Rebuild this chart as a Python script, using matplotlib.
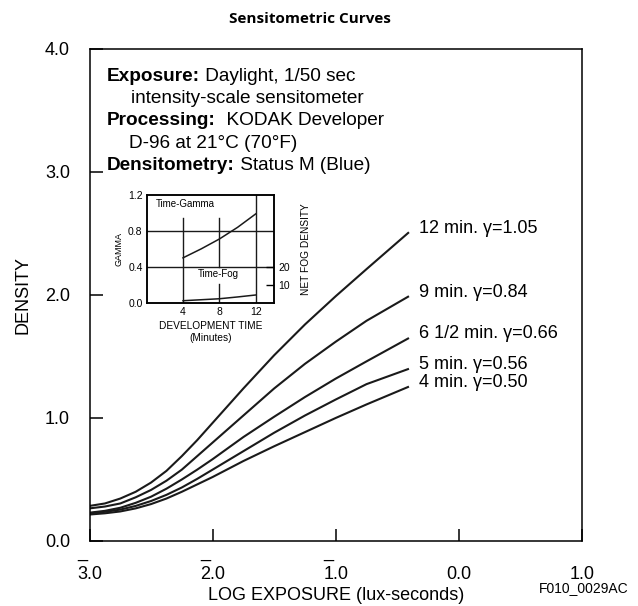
import matplotlib
matplotlib.use("Agg")
import matplotlib.pyplot as plt

plt.rcParams['font.family'] = ['Liberation Sans', 'DejaVu Sans']

# Main chart data (log exposure vs density)
log_exposure = [-3.0, -2.875, -2.75, -2.625, -2.5, -2.375, -2.25, -2.125,
                -2.0, -1.875, -1.75, -1.5, -1.25, -1.0, -0.75, -0.405]
density_12 = [0.285, 0.305, 0.345, 0.40, 0.475, 0.57, 0.69, 0.82,
              0.96, 1.10, 1.24, 1.51, 1.76, 1.99, 2.21, 2.51]
density_9 = [0.265, 0.28, 0.305, 0.355, 0.415, 0.49, 0.58, 0.69,
             0.80, 0.91, 1.02, 1.24, 1.44, 1.62, 1.79, 1.99]
density_6h = [0.23, 0.245, 0.27, 0.31, 0.36, 0.425, 0.50, 0.58,
              0.665, 0.755, 0.845, 1.01, 1.17, 1.32, 1.46, 1.65]
density_5 = [0.225, 0.237, 0.255, 0.285, 0.325, 0.375, 0.435, 0.505,
             0.58, 0.655, 0.73, 0.88, 1.02, 1.15, 1.275, 1.40]
density_4 = [0.215, 0.225, 0.24, 0.265, 0.30, 0.345, 0.40, 0.46,
             0.52, 0.585, 0.65, 0.77, 0.885, 1.0, 1.11, 1.255]
curve_labels = ["12 min. \u03b3=1.05", "9 min. \u03b3=0.84", "6 1/2 min. \u03b3=0.66",
                "5 min. \u03b3=0.56", "4 min. \u03b3=0.50"]

# bar-notation log values: the bar sits over the first digit
x_ticks = [-3, -2, -1, 0, 1]
x_ticklabels = ['_\n3.0', '_\n2.0', '_\n1.0', ' \n0.0', ' \n1.0']
y_ticks = [0, 1, 2, 3, 4]
y_ticklabels = ['0.0', '1.0', '2.0', '3.0', '4.0']

# Inset data
dev_time = [4, 6, 8, 10, 12]
gamma = [0.50, 0.60, 0.71, 0.84, 0.99]
fog_time = [4, 8, 10, 12]
net_fog = [1.1, 2.2, 3.2, 4.3]

fig = plt.figure(figsize=(6.38, 6.06), dpi=100)
ax = fig.add_axes([0.1403, 0.1073, 0.7718, 0.8119])

series = [density_12, density_9, density_6h, density_5, density_4]
for d in series:
    ax.plot(log_exposure, d, color='#1a1a1a', linewidth=1.5,
            solid_joinstyle='round', solid_capstyle='butt')

for d, lab in zip(series, curve_labels):
    ax.annotate(lab, xy=(log_exposure[-1], d[-1]), xytext=(7, 3),
                textcoords='offset points', fontsize=13, va='center', ha='left')

ax.set_xlim(-3, 1)
ax.set_ylim(0, 4)
ax.set_xticks(x_ticks)
ax.set_xticklabels(x_ticklabels, fontsize=13, linespacing=1.4)
for lab in ax.get_xticklabels():
    lab.set_multialignment('left')
ax.set_yticks(y_ticks)
ax.set_yticklabels(y_ticklabels, fontsize=13)
ax.tick_params(direction='in', length=9, width=1.1)
ax.tick_params(axis='x', pad=2)
ax.tick_params(axis='y', pad=14)
for s in ax.spines.values():
    s.set_linewidth(1.1)
ax.set_xlabel('LOG EXPOSURE (lux-seconds)', fontsize=13, labelpad=3)
ax.set_ylabel('DENSITY', fontsize=13, labelpad=10)

# Conditions text block
lines = [("Exposure:", " Daylight, 1/50 sec", 0.036),
         (None, "intensity-scale sensitometer", 0.085),
         ("Processing:", "  KODAK Developer", 0.036),
         (None, "D-96 at 21\u00b0C (70\u00b0F)", 0.08),
         ("Densitometry:", " Status M (Blue)", 0.036)]
y = 0.945
for bold, rest, xoff in lines:
    if bold:
        t = ax.text(xoff, y, bold, transform=ax.transAxes, fontsize=13.7,
                    fontweight='bold', va='center', ha='left')
        ax.annotate(rest, xy=(1, 0.5), xycoords=t, va='center', ha='left',
                    fontsize=13.7)
    else:
        ax.text(xoff, y, rest, transform=ax.transAxes, fontsize=13.7,
                va='center', ha='left')
    y -= 0.0457

fig.text(0.486, 0.969, 'Sensitometric Curves', family='Open Sans',
         fontweight='bold', fontsize=11, ha='center', va='center')
fig.text(0.985, 0.029, 'F010_0029AC', fontsize=10, ha='right', va='center')

# Inset chart
axi = fig.add_axes([0.2299, 0.5005, 0.1995, 0.1777])
axi.set_xlim(0, 14)
axi.set_ylim(0, 1.2)
axi.axhline(0.4, color='#1a1a1a', lw=1.0)
axi.axhline(0.8, color='#1a1a1a', lw=1.0)
axi.axvline(4, ymin=0, ymax=0.79, color='#1a1a1a', lw=1.0)
axi.axvline(8, ymin=0, ymax=0.175, color='#1a1a1a', lw=1.0)
axi.axvline(8, ymin=0.333, ymax=0.79, color='#1a1a1a', lw=1.0)
axi.axvline(12, color='#1a1a1a', lw=1.0)
axi.plot(dev_time, gamma, color='#1a1a1a', lw=1.1)
axi.text(1.0, 1.10, 'Time-Gamma', fontsize=7, va='center', ha='left')
axi.text(7.9, 0.32, 'Time-Fog', fontsize=7, va='center', ha='center')
axi.set_yticks([0, 0.4, 0.8, 1.2])
axi.set_yticklabels(['0.0', '0.4', '0.8', '1.2'], fontsize=7.5)
axi.set_xticks([4, 8, 12])
axi.set_xticklabels(['4', '8', '12'], fontsize=7.5)
axi.tick_params(length=0, pad=3)
axi.set_xlabel('DEVELOPMENT TIME\n(Minutes)', fontsize=7.3, labelpad=3, linespacing=1.3)
axi.set_ylabel('GAMMA', fontsize=6.5, labelpad=3)
for s in axi.spines.values():
    s.set_linewidth(1.1)

axr = axi.twinx()
axr.set_ylim(0, 60)
axr.plot(fog_time, net_fog, color='#1a1a1a', lw=1.1)
axr.set_yticks([10, 20])
axr.set_yticklabels(['10', '20'], fontsize=7.5)
axr.tick_params(direction='in', length=6, width=1.0, pad=3)
axr.set_ylabel('NET FOG DENSITY', fontsize=7.3, labelpad=8)
for s in axr.spines.values():
    s.set_linewidth(1.1)

fig.savefig('out.png', dpi=100)
